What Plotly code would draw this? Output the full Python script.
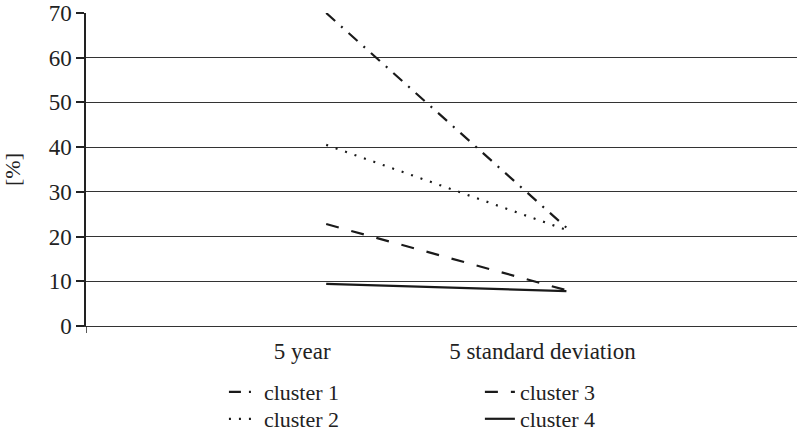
import plotly.graph_objects as go

categories = ["5 year", "5 standard deviation"]
series_names = ["cluster 1", "cluster 2", "cluster 3", "cluster 4"]
cluster1 = [70.0, 22.0]
cluster2 = [40.5, 21.5]
cluster3 = [22.8, 8.0]
cluster4 = [9.4, 7.8]
y_ticks = [0, 10, 20, 30, 40, 50, 60, 70]

values = [cluster1, cluster2, cluster3, cluster4]
dashes = ["12px,8px,2px,8px", "2px,8px", "13px,13px", "solid"]
legends = ["legend", "legend2", "legend3", "legend4"]
legend_xy = [(0.194, -0.144), (0.194, -0.230), (0.554, -0.144), (0.554, -0.230)]

x_pos = [1, 2]
FONT = "Liberation Serif"

fig = go.Figure()
for name, vals, dash, lg in zip(series_names, values, dashes, legends):
    fig.add_trace(go.Scatter(
        x=x_pos, y=vals, mode="lines", name=name,
        line=dict(color="#1a1a1a", width=2.2, dash=dash),
        legend=lg,
    ))

legend_common = dict(
    orientation="v", xanchor="left", yanchor="top",
    font=dict(family=FONT, size=22, color="#222"),
    tracegroupgap=0, bgcolor="rgba(0,0,0,0)",
)

fig.update_layout(
    width=797, height=432,
    margin=dict(l=86, r=0, t=13, b=106, autoexpand=False),
    paper_bgcolor="white", plot_bgcolor="white",
    font=dict(family=FONT, size=22, color="#222"),
    showlegend=True,
    xaxis=dict(
        range=[0, 2.96], tickvals=[0.9, 1.9], ticktext=categories,
        showgrid=False, zeroline=False, showline=True, linecolor="#333", linewidth=1,
        ticks="", ticklabelstandoff=4, tickfont=dict(family=FONT, size=23),
    ),
    yaxis=dict(
        range=[0, 70], tickvals=y_ticks,
        showgrid=True, gridcolor="#333", gridwidth=1,
        zeroline=False, showline=True, linecolor="#222", linewidth=1.5,
        ticks="outside", ticklen=8, tickcolor="#222", tickwidth=1.5,
        title=dict(text="[%]", font=dict(family=FONT, size=22), standoff=22),
        tickfont=dict(family=FONT, size=23),
    ),
)
for lg, (lx, ly) in zip(legends, legend_xy):
    fig.update_layout({lg: dict(x=lx, y=ly, **legend_common)})

fig.add_shape(type="line", xref="x", yref="paper", x0=0, x1=0, y0=0, y1=-0.022,
              line=dict(color="#222", width=1.5))

fig.write_html("out.html")
